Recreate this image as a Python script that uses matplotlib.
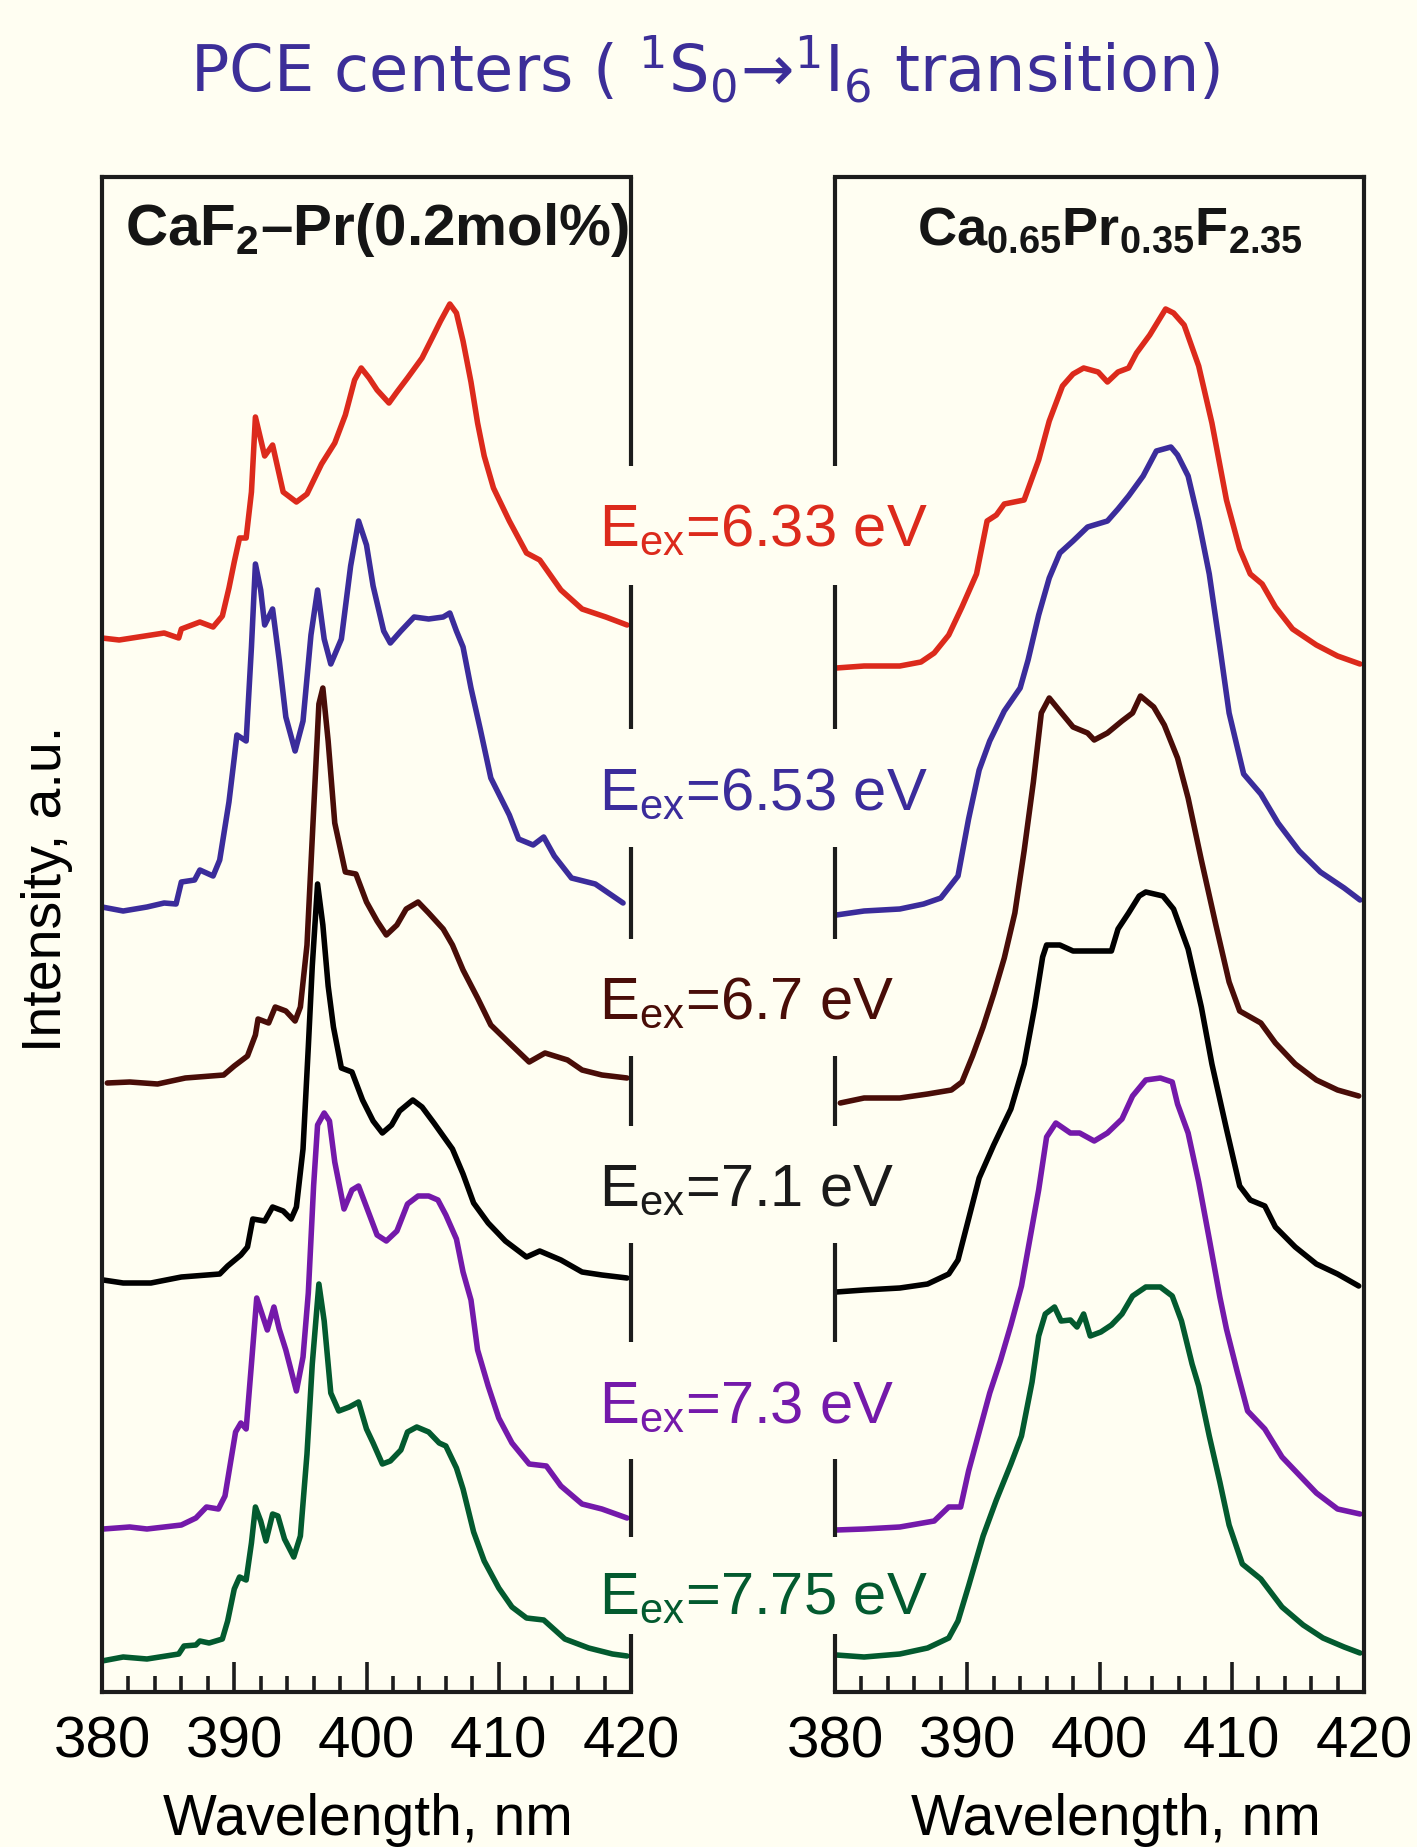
import matplotlib
matplotlib.use("Agg")
import matplotlib.pyplot as plt
from matplotlib.ticker import MultipleLocator

plt.rcParams['font.family'] = ['Liberation Sans', 'DejaVu Sans']
plt.rcParams['mathtext.fontset'] = 'custom'
plt.rcParams['mathtext.rm'] = 'Liberation Sans:bold'
plt.rcParams['mathtext.bf'] = 'Liberation Sans:bold'
plt.rcParams['mathtext.sf'] = 'Liberation Sans'
plt.rcParams['mathtext.tt'] = 'DejaVu Sans'
plt.rcParams['mathtext.default'] = 'rm'

# ---------------- data (wavelength, nm / intensity, a.u. incl. vertical offset) ----------------
# Left panel: CaF2-Pr(0.2mol%)
L633_x = [380.0,381.3,384.7,385.8,386.0,387.4,388.4,389.1,389.6,390.0,390.4,390.9,391.3,391.6,392.3,392.9,393.7,394.7,395.5,396.6,397.6,398.4,399.1,399.6,400.2,400.8,401.7,402.3,403.1,404.2,405.0,405.6,406.3,406.8,407.3,407.9,408.4,408.9,409.6,410.8,412.1,413.1,414.7,416.3,418.1,419.7]
L633_y = [105.4,105.2,105.9,105.4,106.3,107.0,106.5,107.6,110.4,113.0,115.4,115.4,120.0,127.5,123.6,124.7,120.0,119.0,119.8,122.8,124.9,127.7,131.2,132.4,131.4,130.2,128.9,130.0,131.4,133.4,135.5,137.1,138.8,137.9,135.1,131.0,126.9,123.6,120.4,117.1,113.9,113.2,110.2,108.3,107.5,106.7]

L653_x = [380.0,381.6,383.4,384.7,385.6,386.0,387.0,387.4,388.4,388.9,389.6,390.0,390.2,390.9,391.3,391.6,392.0,392.3,392.9,393.4,393.9,394.6,395.2,395.8,396.3,396.8,397.3,398.1,398.8,399.4,400.0,400.5,401.3,401.8,402.6,403.6,404.7,405.8,406.3,406.8,407.3,407.9,408.6,409.4,410.8,411.5,412.6,413.4,414.2,415.5,417.3,419.4]
L653_y = [78.5,78.1,78.5,78.9,78.8,81.0,81.2,82.2,81.6,83.2,89.0,93.4,95.7,95.1,104.5,112.8,110.2,106.7,108.3,103.2,97.5,94.1,97.1,105.7,110.2,105.3,102.8,105.3,112.6,117.1,114.7,110.6,106.1,104.9,106.1,107.5,107.3,107.5,107.9,106.1,104.5,100.4,96.3,91.4,87.7,85.3,84.7,85.5,83.6,81.4,80.8,78.9]

L67_x = [380.4,382.1,384.2,386.3,389.2,390.0,391.0,391.6,391.8,392.6,393.1,393.9,394.6,395.0,395.5,396.0,396.4,396.7,397.1,397.6,398.4,399.2,400.0,400.8,401.5,402.3,403.0,403.9,404.7,405.8,406.5,407.3,408.4,409.4,410.8,412.3,413.5,415.2,416.3,417.8,419.7]
L67_y = [60.9,61.0,60.8,61.4,61.7,62.6,63.6,65.7,67.3,66.9,68.5,68.1,67.1,68.5,74.7,88.1,98.8,100.4,95.1,86.9,82.0,81.8,79.0,77.1,75.7,76.7,78.3,79.0,77.9,76.3,74.7,72.2,69.4,66.7,64.9,63.0,63.9,63.2,62.2,61.7,61.4]

L71_x = [380.1,381.6,383.7,386.0,388.9,389.5,390.5,391.0,391.4,392.3,392.9,393.7,394.3,394.7,395.2,395.6,395.9,396.3,396.7,397.1,397.5,398.1,398.9,399.7,400.5,401.2,401.9,402.5,403.5,404.2,405.1,406.5,407.3,408.1,409.2,410.5,412.1,413.1,414.7,416.3,417.8,419.7]
L71_y = [41.2,40.9,40.9,41.5,41.8,42.6,43.7,44.5,47.3,47.1,48.5,48.1,47.3,48.5,54.3,64.5,72.6,80.8,76.7,70.6,66.5,62.4,62.0,59.2,57.1,55.9,56.7,58.1,59.2,58.5,56.9,54.3,51.8,48.9,46.9,45.1,43.5,44.1,43.2,42.0,41.7,41.4]

L73_x = [380.1,382.1,383.4,386.0,387.1,387.9,388.8,389.3,389.7,390.1,390.5,390.9,391.3,391.7,392.1,392.5,393.0,393.4,393.9,394.7,395.2,395.6,396.0,396.3,396.8,397.2,397.6,398.3,398.9,399.4,400.0,400.8,401.5,402.3,403.1,403.9,404.7,405.4,406.0,406.8,407.3,407.9,408.4,409.2,410.0,411.0,412.3,413.6,414.7,416.3,417.8,419.7]
L73_y = [16.3,16.5,16.3,16.7,17.4,18.5,18.3,19.6,22.8,26.0,26.9,26.3,32.8,39.4,37.8,36.2,38.5,36.3,34.2,30.1,33.5,39.9,50.6,56.7,57.9,57.1,53.0,48.3,50.2,50.6,48.5,45.7,45.1,46.1,48.8,49.6,49.6,49.2,47.7,45.3,42.0,39.2,34.2,30.6,27.4,24.9,22.8,22.6,20.6,18.8,18.3,17.4]

L775_x = [380.0,381.6,383.4,385.8,386.2,387.1,387.4,388.1,389.1,389.5,390.0,390.4,390.9,391.3,391.6,392.0,392.4,392.9,393.3,393.8,394.5,395.0,395.5,395.9,396.4,396.8,397.3,397.9,398.7,399.4,400.0,400.5,401.2,401.8,402.6,403.1,403.8,404.7,405.5,406.0,406.8,407.3,408.1,408.9,410.0,411.0,412.1,413.4,415.0,416.8,418.6,419.7]
L775_y = [3.1,3.5,3.3,3.8,4.6,4.7,5.1,4.9,5.3,7.1,10.3,11.5,11.2,14.9,18.5,17.1,15.1,17.8,17.6,15.3,13.5,15.6,23.8,32.8,40.8,37.1,29.9,28.1,28.5,29.0,26.3,24.9,22.8,23.1,24.2,26.0,26.5,26.0,24.9,24.6,22.4,20.3,16.0,13.1,10.4,8.5,7.4,7.2,5.3,4.4,3.8,3.6]

# Right panel: Ca0.65Pr0.35F2.35
R633_x = [380.1,382.2,384.9,386.5,387.5,388.6,389.6,390.7,391.5,392.2,392.8,394.3,395.4,396.2,397.2,398.0,398.8,399.9,400.6,401.4,402.2,402.8,403.8,405.0,405.6,406.4,407.5,408.5,409.6,410.6,411.4,412.3,413.3,414.6,416.4,418.0,419.7]
R633_y = [102.4,102.6,102.6,103.0,103.9,105.7,108.5,111.8,117.1,117.7,118.8,119.2,123.2,127.1,130.6,131.8,132.4,132.0,131.0,132.0,132.4,133.9,135.7,138.3,137.9,136.7,132.6,126.9,119.2,114.3,111.8,110.8,108.5,106.3,104.7,103.6,102.8]

R653_x = [380.1,382.2,384.9,386.7,388.0,389.3,390.1,390.9,391.7,392.8,394.0,394.6,395.4,396.2,397.0,398.0,399.1,400.6,401.4,402.2,403.3,404.3,405.4,405.9,406.7,407.5,408.3,409.1,409.8,410.9,412.2,413.5,415.1,416.7,418.5,419.7]
R653_y = [77.7,78.1,78.3,78.8,79.4,81.6,87.3,92.2,95.1,98.1,100.4,103.2,107.7,111.4,113.9,115.1,116.5,117.1,118.3,119.6,121.6,124.1,124.5,123.7,121.6,117.1,111.8,104.5,97.9,91.8,89.8,86.9,84.1,82.0,80.4,79.2]

R67_x = [380.4,382.2,384.9,387.0,388.8,389.6,390.4,391.2,392.0,392.8,393.6,394.3,395.0,395.6,396.2,397.0,398.0,399.1,399.6,400.6,401.7,402.5,403.1,404.1,404.9,405.9,406.7,407.7,408.8,409.8,410.6,412.2,413.3,414.8,416.4,418.0,419.6]
R67_y = [58.9,59.4,59.4,59.8,60.2,61.0,63.6,66.5,69.8,73.4,77.9,84.1,91.0,97.9,99.4,98.1,96.5,95.9,95.2,95.9,97.1,97.9,99.6,98.5,96.7,93.4,89.4,83.2,76.7,71.0,68.1,66.9,64.9,62.8,61.2,60.2,59.6]

R71_x = [380.1,382.2,384.9,387.0,388.6,389.3,390.1,390.9,392.0,393.3,394.3,395.1,395.7,396.0,397.0,398.0,399.6,400.9,401.4,402.2,403.0,403.5,404.8,405.6,406.7,407.7,408.5,409.6,410.6,411.4,412.5,413.3,414.8,416.4,418.0,419.6]
R71_y = [40.0,40.2,40.4,40.8,41.8,43.2,47.3,51.4,54.7,58.3,62.8,68.5,73.5,74.7,74.7,74.1,74.1,74.1,76.3,77.9,79.6,80.0,79.6,78.3,74.3,68.5,62.8,56.3,50.6,49.2,48.6,46.5,44.5,42.8,41.8,40.6]

R73_x = [380.1,382.2,384.9,387.5,388.6,389.5,390.1,390.9,391.7,392.5,393.3,394.1,395.4,396.0,396.7,397.8,398.5,399.6,400.6,401.7,402.5,403.5,404.6,405.5,405.9,406.7,407.5,408.3,409.1,409.6,410.4,411.2,412.5,413.8,415.1,416.4,418.0,419.7]
R73_y = [16.2,16.3,16.5,17.1,18.5,18.5,22.1,26.0,29.9,33.1,36.7,40.6,50.2,55.5,56.9,55.9,55.9,55.1,55.9,57.3,59.6,61.2,61.4,61.0,58.8,55.9,51.0,45.3,39.5,36.3,32.1,28.1,26.3,23.5,21.7,19.9,18.3,17.8]

R775_x = [380.1,382.2,384.9,387.0,388.6,389.3,390.1,391.2,392.2,393.3,394.1,394.9,395.4,395.9,396.6,397.1,397.8,398.3,398.8,399.3,400.1,400.9,401.7,402.5,403.5,404.6,405.5,406.2,407.0,407.5,408.3,409.1,409.8,410.8,412.2,413.8,415.4,416.9,418.5,419.7]
R775_y = [3.7,3.5,3.8,4.4,5.4,7.1,10.6,15.6,19.2,22.8,25.6,31.0,35.6,37.8,38.5,37.1,37.2,36.5,37.8,35.6,36.0,36.7,37.8,39.6,40.5,40.5,39.6,37.1,32.8,30.6,25.6,21.0,16.7,12.8,11.3,8.5,6.7,5.4,4.5,3.9]

series_labels = ["6.33", "6.53", "6.7", "7.1", "7.3", "7.75"]
series_colors = ["#DC2A1C", "#3B2C9B", "#490D08", "#000000", "#7419AA", "#035A2F"]
left_series = [(L633_x, L633_y), (L653_x, L653_y), (L67_x, L67_y), (L71_x, L71_y), (L73_x, L73_y), (L775_x, L775_y)]
right_series = [(R633_x, R633_y), (R653_x, R653_y), (R67_x, R67_y), (R71_x, R71_y), (R73_x, R73_y), (R775_x, R775_y)]
panel_titles = [r"CaF$_2$–Pr(0.2mol%)", r"Ca$_{0.65}$Pr$_{0.35}$F$_{2.35}$"]

# ---------------- layout ----------------
W, H = 1417, 1847
BG = "#FFFEF2"
SPINE = "#1C1C1C"
fig = plt.figure(figsize=(W / 100, H / 100), dpi=100, facecolor=BG)

ax_top, ax_bot = 177, 1692
axL = fig.add_axes([102 / W, 1 - ax_bot / H, 529 / W, (ax_bot - ax_top) / H])
axR = fig.add_axes([835 / W, 1 - ax_bot / H, 529 / W, (ax_bot - ax_top) / H])

# axis-fraction segments of the inner spines (broken where the labels sit)
inner_segments = [(0.809, 1.0), (0.6356, 0.731), (0.497, 0.558), (0.3736, 0.4198),
                  (0.231, 0.2964), (0.1023, 0.1538), (0.0, 0.038)]

spine_lw = 3.0
for ax, series, inner in [(axL, left_series, "right"), (axR, right_series, "left")]:
    ax.set_facecolor(BG)
    for (xs, ys), c in zip(series, series_colors):
        ax.plot(xs, ys, color=c, lw=4.0, solid_joinstyle="round", solid_capstyle="round")
    ax.set_xlim(380, 420)
    ax.set_ylim(0, 151.5)
    ax.set_xticks([380, 390, 400, 410, 420])
    ax.xaxis.set_minor_locator(MultipleLocator(2))
    ax.set_yticks([])
    ax.tick_params(axis="x", which="major", direction="in", length=21.5, width=2.6,
                   color=SPINE, labelsize=42, pad=17, top=False)
    ax.tick_params(axis="x", which="minor", direction="in", length=11.5, width=2.6,
                   color=SPINE, top=False)
    for s in ax.spines.values():
        s.set_color(SPINE)
        s.set_linewidth(spine_lw)
    ax.spines[inner].set_visible(False)
    xpos = 420 if inner == "right" else 380
    for a, b in inner_segments:
        ax.axvline(xpos, ymin=a, ymax=b, color=SPINE, lw=spine_lw, clip_on=False,
                   solid_capstyle="butt")
    ax.set_xlabel("Wavelength, nm", fontsize=41)
    ax.xaxis.label.set_va("baseline")

axL.xaxis.set_label_coords(0.503, -0.0944)
axR.xaxis.set_label_coords(0.531, -0.0944)
axL.set_ylabel("Intensity, a.u.", fontsize=40, va="center")
axL.yaxis.set_label_coords(-0.104, 0.530)

# panel titles
fig.text(377 / W, 1 - 245 / H, panel_titles[0], fontsize=42, fontweight="bold",
         ha="center", va="baseline", color="#151515")
fig.text(1110 / W, 1 - 245 / H, panel_titles[1], fontsize=39, fontweight="bold",
         ha="center", va="baseline", color="#151515")

# excitation energy labels
label_baselines = [546, 810, 1019, 1206, 1423, 1614]
for lab, c, yb in zip(series_labels, series_colors, label_baselines):
    fig.text(599 / W, 1 - yb / H, r"E$_{\mathsf{ex}}$=" + lab + " eV", fontsize=43,
             color=c if c != "#000000" else "#1A1A1A", ha="left", va="baseline",
             fontweight="normal")

# main title
fig.text(705 / W, 1 - 92 / H,
         r"PCE centers ( $^{\mathtt{1}}$S$_{\mathtt{0}}$→$^{\mathtt{1}}$I$_{\mathtt{6}}$ transition)",
         fontsize=46, color="#3C2E98", ha="center", va="baseline",
         family=["DejaVu Sans"])

fig.savefig("out.png", dpi=100, facecolor=BG)
